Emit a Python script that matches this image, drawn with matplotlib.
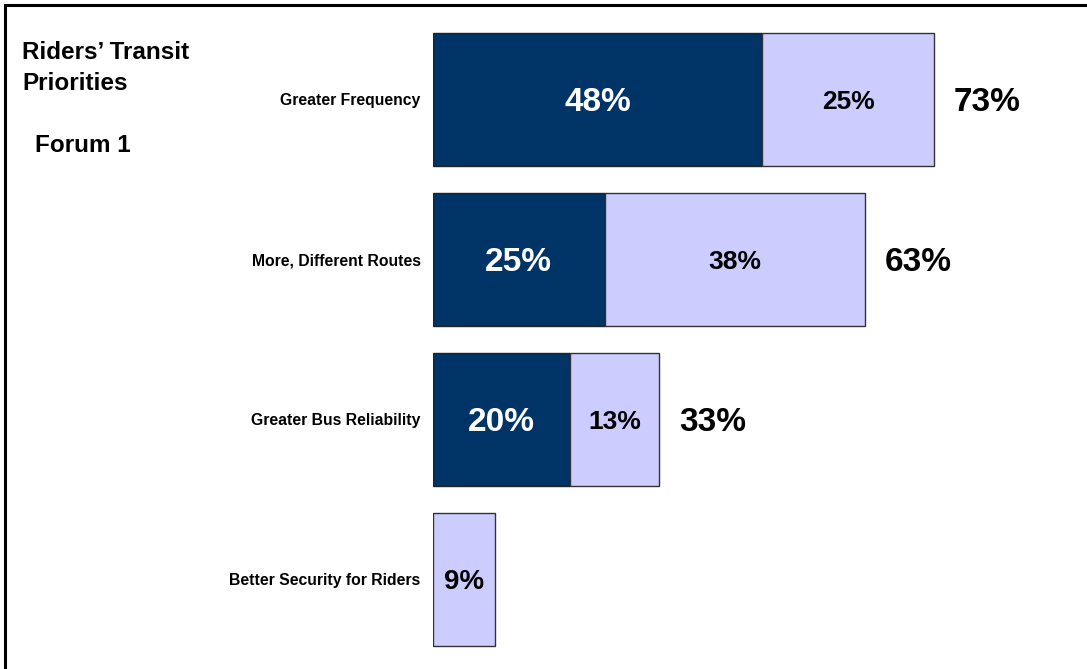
import numpy as np
from matplotlib import pyplot as plt

plt.rcParams["font.family"] = ["Liberation Sans", "DejaVu Sans"]
plt.rcParams["font.weight"] = "bold"

categories = ["Greater Frequency", "More, Different Routes",
              "Greater Bus Reliability", "Better Security for Riders"]
first_choice = [48, 25, 20, 0]
second_choice = [25, 38, 13, 9]
totals = [73, 63, 33, None]

dark = "#003366"
light = "#CCCCFF"

fig = plt.figure(figsize=(10.87, 6.69), dpi=100)
ax = fig.add_axes([433 / 1087, 1 - 659.5 / 669, 652 / 1087, 640.5 / 669])

y = np.arange(len(categories))
h = 0.83
ax.barh(y, first_choice, height=h, color=dark, edgecolor="#222222", linewidth=1)
ax.barh(y, second_choice, left=first_choice, height=h, color=light,
        edgecolor="#333333", linewidth=1)

for i in range(len(categories)):
    if first_choice[i]:
        ax.text(first_choice[i] / 2, i, f"{first_choice[i]}%", color="white",
                ha="center", va="center_baseline", fontsize=24, fontweight="bold")
    mid = first_choice[i] + second_choice[i] / 2
    size = 19 if first_choice[i] else 20
    ax.text(mid, i, f"{second_choice[i]}%", color="black", ha="center",
            va="center_baseline", fontsize=size, fontweight="bold")
    if totals[i] is not None:
        ax.annotate(f"{totals[i]}%", (first_choice[i] + second_choice[i], i),
                    xytext=(14, 0), textcoords="offset points", ha="left",
                    va="center_baseline", fontsize=24, fontweight="bold")

ax.set_xlim(0, 95)
ax.set_ylim(3.5, -0.5)
ax.set_yticks(y)
ax.set_yticklabels(categories, fontsize=11.3, fontweight="bold")
ax.tick_params(axis="y", length=0, pad=9)
ax.set_xticks([])
for s in ax.spines.values():
    s.set_visible(False)

fig.text(22 / 1087, 1 - 50 / 669, "Riders\u2019 Transit", ha="left",
         va="center_baseline", fontsize=17.5, fontweight="bold")
fig.text(22 / 1087, 1 - 81 / 669, "Priorities", ha="left",
         va="center_baseline", fontsize=17.5, fontweight="bold")
fig.text(35 / 1087, 1 - 143 / 669, "Forum 1", ha="left", va="center_baseline",
         fontsize=17.5, fontweight="bold")

# frame lines along the top and left edge
fig.add_artist(plt.Line2D([5 / 1087, 1], [1 - 5 / 669] * 2, color="black", lw=2.2))
fig.add_artist(plt.Line2D([5 / 1087] * 2, [0, 1 - 5 / 669], color="black", lw=2.2))

plt.savefig("out.png", dpi=100)
plt.close(fig)
